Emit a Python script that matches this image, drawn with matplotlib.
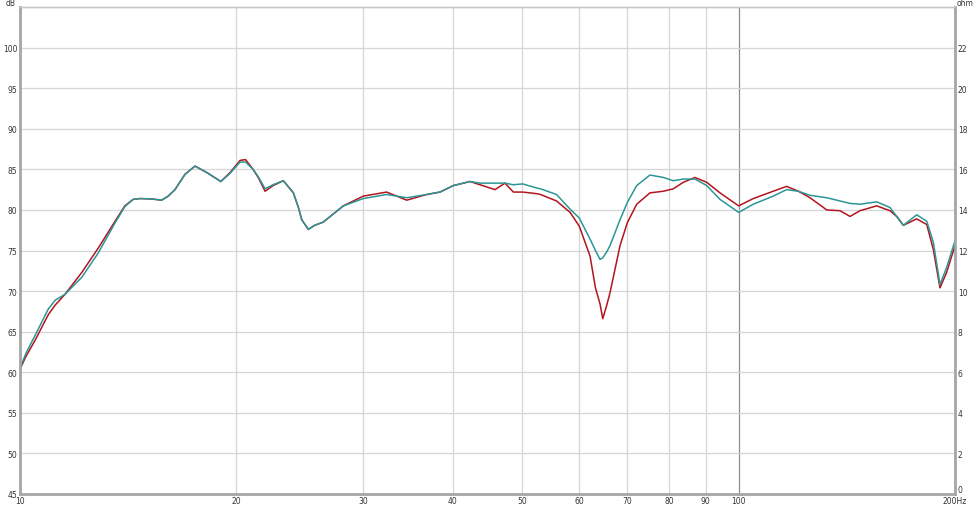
import matplotlib
matplotlib.use("Agg")
import matplotlib.pyplot as plt
from matplotlib.ticker import FixedLocator, NullLocator

freq = [10.0, 10.2, 10.49, 10.95, 11.2, 11.55, 12.19, 12.85, 13.56, 13.99, 14.37, 14.69,
        15.25, 15.74, 16.08, 16.43, 16.97, 17.52, 18.2, 19.03, 19.6, 20.24, 20.6, 21.1,
        21.45, 21.93, 22.5, 23.25, 24.01, 24.4, 24.66, 25.19, 25.7, 26.42, 28.18, 30.04,
        32.37, 34.52, 36.81, 38.41, 40.09, 42.29, 43.66, 45.81, 47.30, 48.58, 50.07, 52.36,
        53.0, 55.8, 58.26, 60.01, 62.12, 63.2, 64.14, 64.7, 65.5, 66.22, 68.38, 69.98,
        72.13, 75.27, 78.55, 81.10, 83.75, 86.93, 90.27, 94.19, 100.0, 104.8, 111.7, 116.6,
        121.1, 125.7, 132.6, 138.4, 142.9, 147.5, 155.6, 162.4, 165.9, 169.5, 176.9, 182.7,
        186.6, 190.6, 194.7, 200.0]

red_db = [60.4, 62.0, 63.9, 67.1, 68.3, 69.6, 72.3, 75.3, 78.6, 80.5, 81.3, 81.4,
          81.35, 81.2, 81.7, 82.5, 84.4, 85.4, 84.6, 83.5, 84.6, 86.1, 86.2, 85.0,
          84.0, 82.3, 83.0, 83.6, 82.1, 80.3, 78.8, 77.6, 78.1, 78.5, 80.5, 81.7,
          82.2, 81.2, 81.9, 82.2, 83.0, 83.5, 83.1, 82.5, 83.3, 82.2, 82.2, 82.0,
          81.9, 81.1, 79.7, 78.0, 74.3, 70.4, 68.4, 66.6, 68.2, 69.8, 75.6, 78.4,
          80.7, 82.1, 82.3, 82.6, 83.4, 84.0, 83.4, 82.1, 80.5, 81.4, 82.3, 82.9,
          82.3, 81.5, 80.0, 79.9, 79.2, 79.9, 80.5, 79.9, 79.2, 78.1, 78.9, 78.2,
          75.1, 70.4, 72.3, 75.6]

teal_db = [60.5, 62.4, 64.5, 67.8, 68.9, 69.6, 71.7, 74.7, 78.4, 80.4, 81.3, 81.4,
           81.35, 81.2, 81.7, 82.5, 84.4, 85.4, 84.6, 83.5, 84.5, 85.9, 85.9, 85.0,
           84.1, 82.6, 83.1, 83.6, 82.1, 80.3, 78.8, 77.6, 78.1, 78.5, 80.5, 81.4,
           81.9, 81.5, 81.9, 82.2, 83.0, 83.5, 83.3, 83.3, 83.3, 83.1, 83.2, 82.7,
           82.6, 81.9, 80.1, 79.0, 76.4, 75.0, 73.9, 74.1, 74.8, 75.6, 78.8, 80.9,
           83.0, 84.3, 84.0, 83.6, 83.8, 83.8, 83.0, 81.3, 79.7, 80.7, 81.7, 82.5,
           82.3, 81.8, 81.5, 81.1, 80.8, 80.7, 81.0, 80.3, 79.2, 78.1, 79.4, 78.6,
           76.0, 70.8, 72.9, 76.2]

x_ticks = [10, 20, 30, 40, 50, 60, 70, 80, 90, 100, 200]
x_labels = ["10", "20", "30", "40", "50", "60", "70", "80", "90", "100", "200Hz"]
db_ticks = [45, 50, 55, 60, 65, 70, 75, 80, 85, 90, 95, 100]
ohm_ticks = [0, 2, 4, 6, 8, 10, 12, 14, 16, 18, 20, 22]

W, H = 975, 506
fig = plt.figure(figsize=(W / 100, H / 100), dpi=100)
ax = fig.add_axes([20 / W, 11 / H, 935 / W, 487 / H])
ax.set_xscale("log")
ax.set_xlim(10, 200)
ax.set_ylim(45, 105)

grid_c = "#d6d6d6"
for f in x_ticks[1:-1]:
    ax.axvline(f, color="#8c8c8c" if f == 100 else grid_c, lw=0.9, zorder=1)
for d in db_ticks[1:]:
    ax.axhline(d, color=grid_c, lw=0.9, zorder=1)

ax.plot(freq, red_db, color="#b3141e", lw=1.1, zorder=3)
ax.plot(freq, teal_db, color="#2b9696", lw=1.1, zorder=4)

ax.xaxis.set_major_locator(FixedLocator(x_ticks))
ax.xaxis.set_minor_locator(NullLocator())
ax.set_xticklabels(x_labels)
ax.set_yticks(db_ticks)
ax.set_yticklabels([str(d) for d in db_ticks])
ax.tick_params(axis="both", length=0, labelsize=5.5, colors="#333333", pad=2)
ax.tick_params(axis="x", pad=1.5)

ax2 = ax.twinx()
ax2.set_ylim(0, 24)
ax2.set_yticks(ohm_ticks)
ax2.set_yticklabels([str(o) for o in ohm_ticks])
ax2.tick_params(axis="y", length=0, labelsize=5.5, colors="#333333", pad=2)
for lab in ax2.get_yticklabels():
    if lab.get_text() == "0":
        lab.set_va("bottom")

for a in (ax, ax2):
    for s in ("left", "bottom", "right"):
        a.spines[s].set_color("#a8a8a8")
        a.spines[s].set_linewidth(1.8)
    a.spines["top"].set_color("#c8c8c8")
    a.spines["top"].set_linewidth(1.0)

fig.text(16 / W, 1 - 4 / H, "dB", fontsize=5.5, color="#333333", ha="right", va="center")
fig.text(957 / W, 1 - 4 / H, "ohm", fontsize=5.5, color="#333333", ha="left", va="center")

fig.savefig("out.png", dpi=100, facecolor="white")
